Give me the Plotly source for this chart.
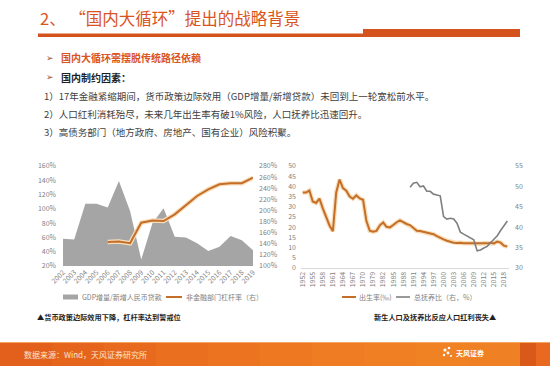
import plotly.graph_objects as go

W, H = 550, 366
def px(x): return x / W
def py(y): return 1 - y / H

# ---------------- data: left chart ----------------
years_left = ["2002", "2003", "2004", "2005", "2006", "2007", "2008", "2009", "2010",
              "2011", "2012", "2013", "2014", "2015", "2016", "2017", "2018", "2019"]
gdp_loan_ratio = [58, 57, 107, 107, 102, 139, 97, 29, 80, 101, 61, 60, 52, 41, 47, 62, 56, 42]
leverage_years = ["2006", "2007", "2008", "2009", "2010", "2011", "2012", "2013", "2014",
                  "2015", "2016", "2017", "2018", "2019"]
leverage = [143, 144, 141, 178, 182, 181, 193, 209, 226, 238, 247, 249, 249, 259]

# ---------------- data: right chart ----------------
years_right = ["1952", "1953", "1954", "1955", "1956", "1957", "1958", "1959", "1960", "1961",
               "1962", "1963", "1964", "1965", "1966", "1967", "1968", "1969", "1970",
               "1975", "1978",
               "1979", "1980", "1981", "1982", "1983", "1984", "1985", "1986", "1987", "1988",
               "1989", "1990", "1991", "1992", "1993", "1994", "1995", "1996", "1997", "1998",
               "1999", "2000", "2001", "2002", "2003", "2004", "2005", "2006", "2007", "2008",
               "2009", "2010", "2011", "2012", "2013", "2014", "2015", "2016", "2017", "2018", "2019"]
birth_rate = [37.00, 37.00, 37.97, 32.60, 31.90, 34.03, 29.22, 24.78, 20.86, 18.02,
              37.01, 43.37, 39.14, 37.88, 35.05, 33.96, 35.59, 34.11, 33.43,
              23.01, 18.25,
              17.82, 18.21, 20.91, 22.28, 20.19, 19.90, 21.04, 22.43, 23.33, 22.37,
              21.58, 21.06, 19.68, 18.24, 18.09, 17.70, 17.12, 16.98, 16.57, 15.64,
              14.64, 14.03, 13.38, 12.86, 12.41, 12.29, 12.40, 12.09, 12.10, 12.14,
              11.95, 11.90, 11.93, 12.10, 12.08, 12.37, 12.07, 12.95, 12.43, 10.94, 10.48]
dep_years = ["1990", "1991", "1992", "1993", "1994", "1995", "1996", "1997", "1998", "1999",
             "2000", "2001", "2002", "2003", "2004", "2005", "2006", "2007", "2008", "2009",
             "2010", "2011", "2012", "2013", "2014", "2015", "2016", "2017", "2018", "2019"]
dependency = [49.8, 50.8, 51.0, 49.9, 50.1, 48.8, 48.8, 48.1, 47.9, 47.7,
              42.6, 42.0, 42.2, 42.0, 41.0, 38.8, 38.3, 37.9, 37.4, 36.9,
              34.2, 34.4, 34.9, 35.3, 36.2, 37.0, 37.9, 39.2, 40.4, 41.5]
right_tick_labels = ["1952", "1955", "1958", "1961", "1964", "1967", "1970", "1979", "1982",
                     "1985", "1988", "1991", "1994", "1997", "2000", "2003", "2006", "2009",
                     "2012", "2015", "2018"]

FONT = "Noto Sans CJK SC"
ORANGE = "#C46E28"
HALO = "#F7DEBB"
GRAYLINE = "#7F7F7F"
AREA = "#A5A5A5"
TICK = dict(size=7, color="#7F7F7F", family=FONT)

fig = go.Figure()

# left chart
fig.add_trace(go.Scatter(x=years_left, y=gdp_loan_ratio, fill="tozeroy", mode="none",
                         fillcolor=AREA, name="GDP增量/新增人民币贷款",
                         xaxis="x", yaxis="y", hoverinfo="skip"))
fig.add_trace(go.Scatter(x=leverage_years, y=leverage, mode="lines",
                         line=dict(color=HALO, width=4.5), xaxis="x", yaxis="y2", hoverinfo="skip"))
fig.add_trace(go.Scatter(x=leverage_years, y=leverage, mode="lines",
                         line=dict(color=ORANGE, width=2), name="非金融部门杠杆率（右）",
                         xaxis="x", yaxis="y2"))

# right chart
fig.add_trace(go.Scatter(x=years_right, y=birth_rate, mode="lines",
                         line=dict(color=HALO, width=4.5), xaxis="x2", yaxis="y3", hoverinfo="skip"))
fig.add_trace(go.Scatter(x=years_right, y=birth_rate, mode="lines",
                         line=dict(color=ORANGE, width=2), name="出生率(‰)",
                         xaxis="x2", yaxis="y3"))
fig.add_trace(go.Scatter(x=dep_years, y=dependency, mode="lines",
                         line=dict(color=GRAYLINE, width=1.6), name="总抚养比（右，%）",
                         xaxis="x2", yaxis="y4"))

annotations = [
    dict(text="2、 “国内大循环”提出的战略背景", x=px(38), y=py(18), xanchor="left", yanchor="middle",
         font=dict(size=16.5, color="#D9541E", family=FONT)),
    dict(text="➢", x=px(44), y=py(58), xanchor="left", yanchor="middle",
         font=dict(size=9, color="#A0522D", family="DejaVu Sans")),
    dict(text="<b>国内大循环需摆脱传统路径依赖</b>", x=px(59), y=py(58), xanchor="left", yanchor="middle",
         font=dict(size=10, color="#D9541E", family=FONT)),
    dict(text="➢", x=px(44), y=py(77), xanchor="left", yanchor="middle",
         font=dict(size=9, color="#A0522D", family="DejaVu Sans")),
    dict(text="<b>国内制约因素：</b>", x=px(59), y=py(77), xanchor="left", yanchor="middle",
         font=dict(size=10, color="#1F1F1F", family=FONT)),
    dict(text="1）17年金融紧缩期间，货币政策边际效用（GDP增量/新增贷款）未回到上一轮宽松前水平。",
         x=px(42), y=py(96), xanchor="left", yanchor="middle",
         font=dict(size=9.5, color="#404040", family=FONT)),
    dict(text="2）人口红利消耗殆尽，未来几年出生率有破1%风险，人口抚养比迅速回升。",
         x=px(42), y=py(114), xanchor="left", yanchor="middle",
         font=dict(size=9.5, color="#404040", family=FONT)),
    dict(text="3）高债务部门（地方政府、房地产、国有企业）风险积聚。",
         x=px(42), y=py(132), xanchor="left", yanchor="middle",
         font=dict(size=9.5, color="#404040", family=FONT)),
    dict(text="<b>▲货币政策边际效用下降，杠杆率达到警戒位</b>", x=px(35), y=py(317), xanchor="left",
         yanchor="middle", font=dict(size=7.2, color="#1F1F1F", family=FONT)),
    dict(text="<b>新生人口及抚养比反应人口红利丧失▲</b>", x=px(498), y=py(317), xanchor="right",
         yanchor="middle", font=dict(size=7.2, color="#1F1F1F", family=FONT)),
    dict(text="数据来源：Wind，天风证券研究所", x=px(22), y=py(354), xanchor="left", yanchor="middle",
         font=dict(size=8, color="#FCE2CC", family=FONT)),
    dict(text="<b>天风证券</b>", x=px(454), y=py(353), xanchor="left", yanchor="middle",
         font=dict(size=7, color="#FFFFFF", family=FONT)),
    # legend texts
    dict(text="GDP增量/新增人民币贷款", x=px(80), y=py(297), xanchor="left", yanchor="middle",
         font=dict(size=7, color="#7F7F7F", family=FONT)),
    dict(text="非金融部门杠杆率（右）", x=px(184), y=py(297), xanchor="left", yanchor="middle",
         font=dict(size=7, color="#7F7F7F", family=FONT)),
    dict(text="出生率(‰)", x=px(357), y=py(297), xanchor="left", yanchor="middle",
         font=dict(size=7, color="#7F7F7F", family=FONT)),
    dict(text="总抚养比（右，%）", x=px(412), y=py(297), xanchor="left", yanchor="middle",
         font=dict(size=7, color="#7F7F7F", family=FONT)),
]
for a in annotations:
    a.update(xref="paper", yref="paper", showarrow=False)

shapes = []
# footer band (gradient approximated with strips)
footer_cols = ["#E2601C", "#E5651D", "#E86A1E", "#EA6F1F", "#EC7420", "#EE7821",
               "#EF7C22", "#F07F23", "#F08224", "#EF8024"]
n = len(footer_cols)
for i, c in enumerate(footer_cols):
    shapes.append(dict(type="rect", x0=px(i * 520 / n), x1=px((i + 1) * 520 / n + 0.5),
                       y0=py(366), y1=py(342), fillcolor=c, line_width=0, layer="below"))
shapes.append(dict(type="rect", x0=px(520), x1=px(536), y0=py(366), y1=py(342),
                   fillcolor="#D9591B", line_width=0, layer="below"))
shapes.append(dict(type="rect", x0=px(536), x1=px(550), y0=py(366), y1=py(342),
                   fillcolor="#E8691F", line_width=0, layer="below"))
shapes.append(dict(type="line", x0=0, x1=1, y0=py(342.5), y1=py(342.5),
                   line=dict(color="#F6A463", width=1)))
# title underline
shapes.append(dict(type="rect", x0=px(38), x1=px(364), y0=py(37), y1=py(33.5),
                   fillcolor="#D4531C", line_width=0))
shapes.append(dict(type="rect", x0=px(363), x1=px(520), y0=py(37), y1=py(29),
                   fillcolor="#D4531C", line_width=0))
# logo flower dots
for (cx, cy, r) in [(445, 350, 1.6), (449, 348, 1.3), (448, 353, 1.4), (444, 355, 1.2), (451, 356, 1.1)]:
    shapes.append(dict(type="circle", x0=px(cx - r), x1=px(cx + r), y0=py(cy + r), y1=py(cy - r),
                       fillcolor="#FFFFFF", line_width=0))
# legend symbols
shapes.append(dict(type="rect", x0=px(63), x1=px(78), y0=py(299.5), y1=py(294.5),
                   fillcolor=AREA, line_width=0))
shapes.append(dict(type="line", x0=px(166), x1=px(182), y0=py(297), y1=py(297),
                   line=dict(color=ORANGE, width=2)))
shapes.append(dict(type="line", x0=px(342), x1=px(356), y0=py(297), y1=py(297),
                   line=dict(color=ORANGE, width=2)))
shapes.append(dict(type="line", x0=px(396), x1=px(410), y0=py(297), y1=py(297),
                   line=dict(color=GRAYLINE, width=1.6)))
for s in shapes:
    s.update(xref="paper", yref="paper")

fig.update_layout(
    width=W, height=H, margin=dict(l=0, r=0, t=0, b=0, pad=0, autoexpand=False),
    paper_bgcolor="white", plot_bgcolor="rgba(0,0,0,0)",
    font=dict(family=FONT), showlegend=False,
    annotations=annotations, shapes=shapes,
    xaxis=dict(domain=[px(63), px(253)], anchor="y", type="category", categoryarray=years_left,
               range=[0, 17], tickangle=-45, tickfont=TICK, showgrid=False, showline=False,
               zeroline=False, ticks="", automargin=False),
    yaxis=dict(domain=[py(266), py(166)], anchor="x", range=[20, 160], dtick=20, ticksuffix="%",
               tickfont=TICK, showgrid=False, zeroline=False, ticklabelstandoff=6, automargin=False),
    yaxis2=dict(overlaying="y", side="right", anchor="x", range=[100, 280], dtick=20,
                ticksuffix="%", tickfont=TICK, showgrid=False, zeroline=False, ticklabelstandoff=5,
                automargin=False),
    xaxis2=dict(domain=[px(301), px(509)], anchor="y3", type="category", categoryarray=years_right,
                range=[-0.5, 61.5], tickmode="array", tickvals=right_tick_labels,
                ticktext=right_tick_labels, tickangle=-90, tickfont=TICK, showgrid=False,
                showline=True, linecolor="#D9D9D9", linewidth=1, zeroline=False, ticks="",
                automargin=False),
    yaxis3=dict(domain=[py(268), py(166)], anchor="x2", range=[0, 50], dtick=5, tickfont=TICK,
                showgrid=False, zeroline=False, ticklabelstandoff=4, automargin=False),
    yaxis4=dict(overlaying="y3", side="right", anchor="x2", range=[30, 55], dtick=5, tickfont=TICK,
                showgrid=False, zeroline=False, ticklabelstandoff=5, automargin=False),
)

fig.write_html("out.html", config={"displayModeBar": False},
               post_script="document.body.style.margin='0';document.body.style.padding='0';"
                           "document.documentElement.style.overflow='hidden';")
